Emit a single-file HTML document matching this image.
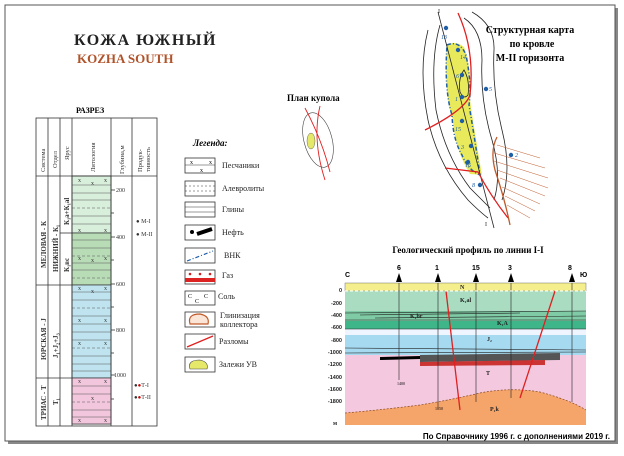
<!DOCTYPE html>
<html><head><meta charset="utf-8"><style>
body{margin:0;background:#fff;width:624px;height:451px;overflow:hidden;font-family:"Liberation Serif",serif;}
svg text{font-family:"Liberation Serif",serif;}
svg text.sans{font-family:"Liberation Sans",sans-serif;}
</style></head><body>
<svg width="624" height="451" viewBox="0 0 624 451" xmlns="http://www.w3.org/2000/svg">
<rect x="8" y="8" width="610" height="436" fill="#888"/>
<rect x="5" y="5" width="610" height="436" fill="#fff" stroke="#555" stroke-width="1"/>
<text x="74" y="45" font-size="16" font-weight="bold" letter-spacing="1.5" fill="#222">КОЖА ЮЖНЫЙ</text>
<text x="77" y="63" font-size="13" font-weight="bold" fill="#b0532a">KOZHA SOUTH</text>
<text x="76" y="113" font-size="8" font-weight="bold">РАЗРЕЗ</text>
<g stroke="#333" stroke-width="0.7">
<rect x="72" y="176" width="39" height="248" fill="#fff"/>
<rect x="72" y="176" width="39" height="57" fill="#d8efdc"/>
<rect x="72" y="233" width="39" height="52" fill="#b8dcb6"/>
<rect x="72" y="285" width="39" height="93" fill="#bfe3ef"/>
<rect x="72" y="378" width="39" height="46" fill="#f2c7dd"/>
</g>
<g stroke="#555" stroke-width="0.5">
<line x1="72" y1="185" x2="111" y2="185"/><line x1="72" y1="193" x2="111" y2="193"/><line x1="72" y1="200" x2="111" y2="200"/><line x1="72" y1="208" x2="111" y2="208" stroke-dasharray="3,2"/><line x1="72" y1="216" x2="111" y2="216"/><line x1="72" y1="224" x2="111" y2="224"/>
<line x1="72" y1="240" x2="111" y2="240"/><line x1="72" y1="248" x2="111" y2="248"/><line x1="72" y1="256" x2="111" y2="256" stroke-dasharray="3,2"/><line x1="72" y1="263" x2="111" y2="263"/><line x1="72" y1="270" x2="111" y2="270"/><line x1="72" y1="278" x2="111" y2="278" stroke-dasharray="3,2"/>
<line x1="72" y1="292" x2="111" y2="292"/><line x1="72" y1="300" x2="111" y2="300"/><line x1="72" y1="308" x2="111" y2="308" stroke-dasharray="3,2"/><line x1="72" y1="316" x2="111" y2="316"/><line x1="72" y1="324" x2="111" y2="324"/><line x1="72" y1="332" x2="111" y2="332"/><line x1="72" y1="340" x2="111" y2="340"/><line x1="72" y1="348" x2="111" y2="348" stroke-dasharray="3,2"/><line x1="72" y1="356" x2="111" y2="356"/><line x1="72" y1="364" x2="111" y2="364"/><line x1="72" y1="371" x2="111" y2="371"/>
<line x1="72" y1="386" x2="111" y2="386"/><line x1="72" y1="394" x2="111" y2="394"/><line x1="72" y1="402" x2="111" y2="402" stroke-dasharray="3,2"/><line x1="72" y1="410" x2="111" y2="410"/><line x1="72" y1="417" x2="111" y2="417"/>
</g>
<g font-size="6" fill="#333">
<text x="78" y="182">x</text><text x="91" y="185">x</text><text x="104" y="182">x</text>
<text x="78" y="232">x</text><text x="104" y="232">x</text><text x="78" y="260">x</text><text x="91" y="262">x</text><text x="104" y="260">x</text>
<text x="78" y="290">x</text><text x="91" y="293">x</text><text x="104" y="290">x</text><text x="78" y="322">x</text><text x="104" y="322">x</text><text x="78" y="345">x</text><text x="104" y="345">x</text>
<text x="78" y="383">x</text><text x="104" y="383">x</text><text x="91" y="400">x</text><text x="78" y="422">x</text><text x="104" y="422">x</text>
</g>
<g stroke="#333" stroke-width="0.8" fill="none">
<rect x="36" y="118" width="121" height="308"/>
<line x1="36" y1="176" x2="157" y2="176"/>
<line x1="48" y1="118" x2="48" y2="426"/><line x1="60" y1="118" x2="60" y2="426"/><line x1="72" y1="118" x2="72" y2="426"/>
<line x1="111" y1="118" x2="111" y2="426"/><line x1="132" y1="118" x2="132" y2="426"/>
<line x1="36" y1="285" x2="72" y2="285"/><line x1="36" y1="378" x2="72" y2="378"/><line x1="60" y1="233" x2="72" y2="233"/>
<line x1="111" y1="190" x2="115" y2="190"/><line x1="111" y1="213" x2="114" y2="213"/><line x1="111" y1="237" x2="115" y2="237"/><line x1="111" y1="260" x2="114" y2="260"/><line x1="111" y1="284" x2="115" y2="284"/><line x1="111" y1="307" x2="114" y2="307"/><line x1="111" y1="330" x2="115" y2="330"/><line x1="111" y1="353" x2="114" y2="353"/><line x1="111" y1="375" x2="115" y2="375"/><line x1="111" y1="399" x2="114" y2="399"/>
</g>
<g font-size="6" fill="#333">
<text x="116" y="192">200</text><text x="116" y="239">400</text><text x="116" y="286">600</text><text x="116" y="332">800</text><text x="114" y="377">1000</text>
<text x="136" y="223">● М-I</text><text x="136" y="236">● М-II</text>
<text x="134" y="387">●<tspan fill="#c00">●</tspan>Т-I</text><text x="134" y="399">●<tspan fill="#c00">●</tspan>Т-II</text>
</g>
<g font-size="6.5" fill="#333">
<text transform="translate(45,172) rotate(-90)">Система</text>
<text transform="translate(57,168) rotate(-90)">Отдел</text>
<text transform="translate(69,160) rotate(-90)">Ярус</text>
<text transform="translate(95,172) rotate(-90)">Литология</text>
<text transform="translate(124,174) rotate(-90)">Глубина,м</text>
<text transform="translate(142,172) rotate(-90)">Продук-</text>
<text transform="translate(150,172) rotate(-90)">тивность</text>
</g>
<g font-size="7" font-weight="bold" fill="#333">
<text transform="translate(46,268) rotate(-90)">МЕЛОВАЯ - К</text>
<text transform="translate(58,272) rotate(-90)">НИЖНИЙ - К₁</text>
<text transform="translate(69,225) rotate(-90)">К₁а+К₁al</text>
<text transform="translate(69,272) rotate(-90)">К₁вс</text>
<text transform="translate(46,360) rotate(-90)">ЮРСКАЯ - J</text>
<text transform="translate(58,358) rotate(-90)">J₁+J₂+J₃</text>
<text transform="translate(46,420) rotate(-90)">ТРИАС - Т</text>
<text transform="translate(58,405) rotate(-90)">Т₁</text>
</g>
<text x="193" y="146" font-size="9" font-weight="bold" font-style="italic">Легенда:</text>
<g stroke="#333" stroke-width="0.8" fill="#fff">
<rect x="185" y="158" width="30" height="15"/><rect x="185" y="181" width="30" height="15"/><rect x="185" y="202" width="30" height="15"/><rect x="185" y="225" width="30" height="15"/><rect x="185" y="248" width="30" height="15"/><rect x="185" y="270" width="30" height="14"/><rect x="185" y="291" width="30" height="14"/><rect x="185" y="312" width="30" height="15"/><rect x="185" y="334" width="30" height="15"/><rect x="185" y="357" width="30" height="15"/>
</g>
<g stroke="#333" stroke-width="0.5">
<line x1="185" y1="165" x2="215" y2="165"/><line x1="185" y1="186" x2="215" y2="186" stroke-dasharray="2,2"/><line x1="185" y1="191" x2="215" y2="191" stroke-dasharray="2,2"/>
<line x1="185" y1="207" x2="215" y2="207"/><line x1="185" y1="212" x2="215" y2="212"/>
</g>
<text x="190" y="164" font-size="6">x</text><text x="200" y="172" font-size="6">x</text><text x="209" y="164" font-size="6">x</text>
<circle cx="192" cy="232" r="2" fill="#000"/><line x1="197" y1="234" x2="212" y2="229" stroke="#000" stroke-width="4"/>
<line x1="187" y1="261" x2="213" y2="251" stroke="#1f5fa8" stroke-width="1.2" stroke-dasharray="4,2,1,2"/>
<rect x="185" y="278" width="30" height="4" fill="#d22"/><g fill="#c22"><circle cx="190" cy="274" r="1.3"/><circle cx="200" cy="274" r="1.3"/><circle cx="210" cy="274" r="1.3"/></g>
<text x="188" y="298" font-size="6">C</text><text x="195" y="303" font-size="6">C</text><text x="204" y="298" font-size="6">C</text>
<path d="M190 324 Q187 314 200 314 Q210 316 208 324 Z" fill="#fbe5d6" stroke="#c05a2a" stroke-width="1.2"/>
<line x1="187" y1="347" x2="213" y2="336" stroke="#e02020" stroke-width="1.3"/>
<path d="M190 369 Q187 360 200 360 Q209 362 207 369 Z" fill="#e6e86a" stroke="#444" stroke-width="0.6"/>
<g font-size="8" fill="#222">
<text x="222" y="168">Песчаники</text><text x="222" y="191">Алевролиты</text><text x="222" y="212">Глины</text><text x="222" y="235">Нефть</text><text x="224" y="258">ВНК</text><text x="222" y="278">Газ</text><text x="218" y="299">Соль</text><text x="220" y="318">Глинизация</text><text x="220" y="327">коллектора</text><text x="219" y="344">Разломы</text><text x="219" y="367">Залежи УВ</text>
</g>
<text x="287" y="101" font-size="9" font-weight="bold">План купола</text>
<ellipse cx="318" cy="140" rx="14" ry="28" transform="rotate(-15 318 140)" fill="none" stroke="#444" stroke-width="0.6"/>
<ellipse cx="311" cy="141" rx="4" ry="8" fill="#e6e86a" stroke="#444" stroke-width="0.4"/>
<path d="M305 108 Q322 140 330 172" stroke="#e02020" fill="none" stroke-width="0.9"/>
<path d="M320 106 Q312 140 325 180" stroke="#e02020" fill="none" stroke-width="0.9"/>
<text x="530" y="33" font-size="10" font-weight="bold" text-anchor="middle">Структурная карта</text>
<text x="532" y="47" font-size="10" font-weight="bold" text-anchor="middle">по кровле</text>
<text x="530" y="61" font-size="10" font-weight="bold" text-anchor="middle">М-II горизонта</text>
<path d="M447 45 Q455 40 464 47 Q472 70 470 100 Q475 135 482 175 L470 174 Q455 150 453 120 Q444 95 447 45Z" fill="#e9ea5b"/>
<path d="M447 45 Q460 40 466 55 Q472 85 469 105 Q475 140 480 175 Q468 170 462 155 Q453 140 452 115 Q444 90 447 45Z" fill="none" stroke="#1f5fa8" stroke-width="1.5" stroke-dasharray="4,2,1,2"/>
<g fill="none" stroke="#222" stroke-width="0.8">
<path d="M428 30 Q418 70 428 120 Q438 165 468 200 Q480 212 488 218"/>
<path d="M440 25 Q430 60 436 110 Q445 155 470 188 Q482 200 490 208"/>
<path d="M464 18 Q482 30 482 60 Q480 100 492 140 Q502 175 494 200"/>
<path d="M472 12 Q495 25 494 50 Q492 90 502 130 Q512 170 502 200"/>
<path d="M464 70 Q470 80 468 95 Q464 100 460 92 Q458 78 464 70Z"/>
</g>
<path d="M438 12 L494 228" stroke="#222" stroke-width="0.8"/>
<path d="M458 13 Q475 50 470 95 Q465 110 425 130" stroke="#e02020" fill="none" stroke-width="1.3"/>
<path d="M445 168 L478 172 Q490 195 508 218" stroke="#e02020" fill="none" stroke-width="1.3"/>
<path d="M497 137 Q490 150 495 170 Q505 200 510 225" stroke="#c05a2a" fill="none" stroke-width="1.3"/>
<g stroke="#c05a2a" stroke-width="0.5">
<line x1="497" y1="145" x2="540" y2="158"/><line x1="494" y1="153" x2="545" y2="168"/><line x1="494" y1="161" x2="548" y2="178"/><line x1="497" y1="170" x2="548" y2="188"/><line x1="500" y1="178" x2="545" y2="196"/><line x1="502" y1="187" x2="540" y2="204"/><line x1="505" y1="196" x2="535" y2="211"/><line x1="507" y1="205" x2="530" y2="218"/>
</g>
<g fill="#1f5fa8"><circle cx="446" cy="28" r="2.2"/><circle cx="458" cy="50" r="2.2"/><circle cx="462" cy="75" r="2.2"/><circle cx="462" cy="97" r="2.2"/><circle cx="462" cy="121" r="2.2"/><circle cx="471" cy="146" r="2.2"/><circle cx="468" cy="162" r="2.2"/><circle cx="480" cy="185" r="2.2"/><circle cx="486" cy="89" r="2.2"/><circle cx="511" cy="155" r="2.2"/></g>
<g font-size="6" fill="#1f5fa8" font-style="italic"><text x="441" y="39">13</text><text x="460" y="59">14</text><text x="456" y="78">6</text><text x="455" y="101">1</text><text x="455" y="131">15</text><text x="461" y="149">3</text><text x="465" y="167">16</text><text x="472" y="187">8</text><text x="489" y="91">5</text><text x="515" y="157">2</text></g>
<g font-size="6" fill="#222"><text x="438" y="13">I</text><text x="485" y="226">I</text></g>
<text x="468" y="253" font-size="9" font-weight="bold" text-anchor="middle">Геологический профиль по линии I-I</text>
<g font-size="7" font-weight="bold" class="sans">
<text class="sans" x="345" y="277">С</text><text class="sans" x="580" y="277">Ю</text>
<text class="sans" x="397" y="270">6</text><text class="sans" x="435" y="270">1</text><text class="sans" x="472" y="270">15</text><text class="sans" x="508" y="270">3</text><text class="sans" x="568" y="270">8</text>
</g>
<g fill="#000"><path d="M399 273l-3 9h6z"/><path d="M438 273l-3 9h6z"/><path d="M476 273l-3 9h6z"/><path d="M511 273l-3 9h6z"/><path d="M572 273l-3 9h6z"/></g>
<rect x="345" y="283" width="241" height="8" fill="#f4ee8c" stroke="#555" stroke-width="0.4"/>
<rect x="345" y="291" width="241" height="20" fill="#a9dcc0"/>
<rect x="345" y="311" width="241" height="10" fill="#7fcba5"/>
<rect x="345" y="321" width="241" height="8" fill="#3fb58a"/>
<rect x="345" y="329" width="241" height="6" fill="#eef5ff"/>
<rect x="345" y="335" width="241" height="24" fill="#a6daf0"/>
<rect x="345" y="355" width="241" height="70" fill="#f4c9e0"/>
<path d="M345 413 Q380 410 420 405 Q450 400 480 393 Q510 387 540 392 Q570 400 586 410 L586 425 L345 425Z" fill="#f5a46a"/>
<path d="M345 413 Q380 410 420 405 Q450 400 480 393 Q510 387 540 392 Q570 400 586 410" fill="none" stroke="#8a4a20" stroke-dasharray="2,1.5" stroke-width="0.7"/>
<path d="M420 355 L560 353 L560 360 L420 362Z" fill="#555"/>
<path d="M420 362 L545 360 L545 365 L420 366Z" fill="#c33"/>
<path d="M380 357 L420 356 L420 359 L380 360Z" fill="#000"/>
<g stroke="#222" stroke-width="0.6" fill="none">
<path d="M345 313 L586 311"/><path d="M360 315 L520 313"/><path d="M375 318 L586 316"/><path d="M345 320 L586 320"/><path d="M345 329 L586 329"/><path d="M345 348 L586 350"/><path d="M345 353 L586 352"/>
<line x1="399" y1="283" x2="399" y2="380"/><line x1="438" y1="283" x2="438" y2="407"/><line x1="476" y1="283" x2="476" y2="402"/><line x1="511" y1="283" x2="511" y2="398"/><line x1="572" y1="283" x2="572" y2="402"/>
</g>
<path d="M446 291 L460 410" stroke="#e02020" stroke-width="1.3"/>
<path d="M555 291 L520 398" stroke="#e02020" stroke-width="1.3"/>
<line x1="345" y1="291" x2="586" y2="291" stroke="#fff" stroke-dasharray="3,2" stroke-width="1"/>
<g font-size="6" font-weight="bold" fill="#222">
<text x="460" y="289">N</text><text x="460" y="302">K₁al</text><text x="410" y="318">K₁br</text><text x="497" y="325">K₁A</text><text x="487" y="341">J₂</text><text x="486" y="375">T</text><text x="490" y="411">P₁k</text>
<text x="333" y="425">м</text>
</g>
<g font-size="5.5" font-weight="bold" fill="#222" text-anchor="end">
<text class="sans" x="342" y="292">0</text><text class="sans" x="342" y="305">-200</text><text class="sans" x="342" y="317">-400</text><text class="sans" x="342" y="329">-600</text><text class="sans" x="342" y="342">-800</text><text class="sans" x="342" y="354">-1000</text><text class="sans" x="342" y="366">-1200</text><text class="sans" x="342" y="379">-1400</text><text class="sans" x="342" y="391">-1600</text><text class="sans" x="342" y="403">-1800</text>
</g>
<text x="397" y="385" font-size="4">1400</text><text x="435" y="410" font-size="4">1850</text>
<text class="sans" x="610" y="439" font-size="8" font-weight="bold" text-anchor="end">По Справочнику 1996 г. с дополнениями 2019 г.</text>
</svg>
</body></html>
